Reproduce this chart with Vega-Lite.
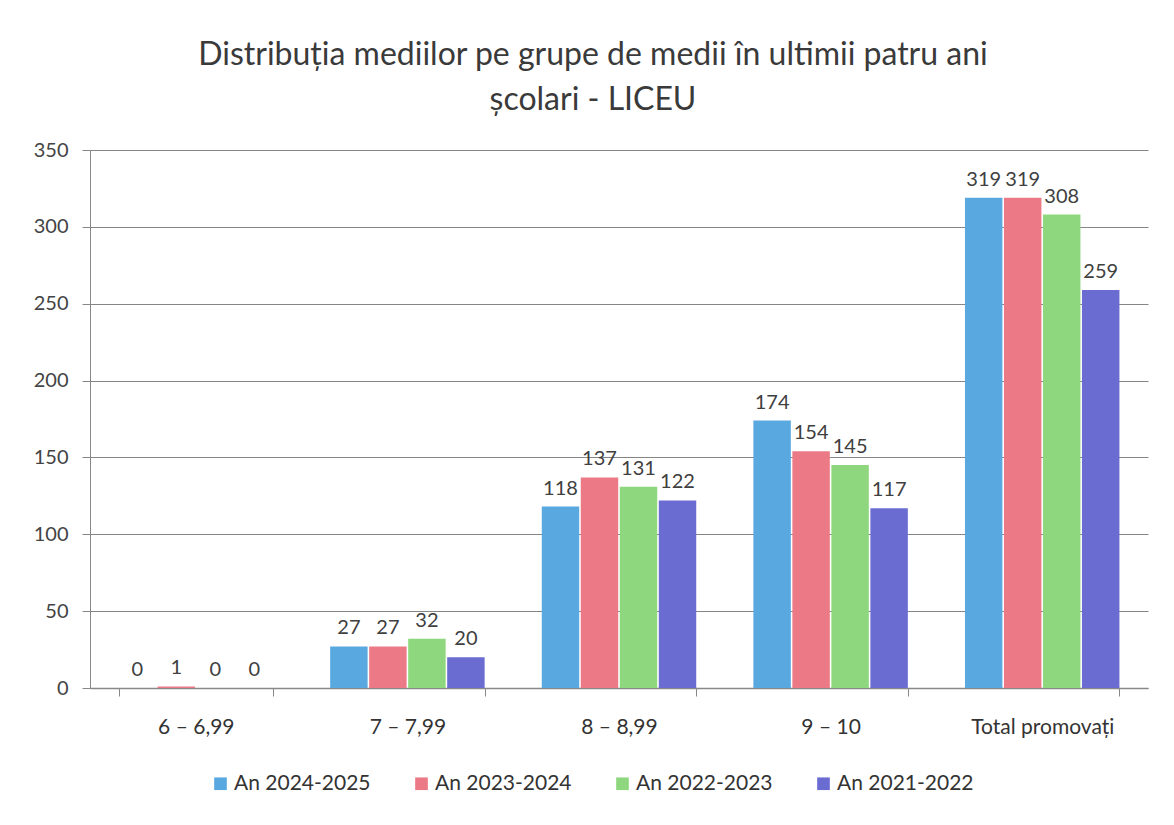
{
  "$schema": "https://vega.github.io/schema/vega-lite/v6.json",
  "width": 1058,
  "height": 538,
  "autosize": {"type": "none"},
  "padding": {"left": 90, "top": 150, "right": 26, "bottom": 137},
  "background": "#ffffff",
  "title": {
    "text": ["Distribuția mediilor pe grupe de medii în ultimii patru ani", "școlari - LICEU"],
    "fontSize": 32,
    "font": "Lato",
    "fontWeight": "normal",
    "color": "#3a3a3a",
    "lineHeight": 45,
    "anchor": "middle",
    "dx": -26,
    "offset": 23
  },
  "data": {
    "values": [
      {"grupa": "6 – 6,99", "an": "An 2024-2025", "valoare": 0},
      {"grupa": "6 – 6,99", "an": "An 2023-2024", "valoare": 1},
      {"grupa": "6 – 6,99", "an": "An 2022-2023", "valoare": 0},
      {"grupa": "6 – 6,99", "an": "An 2021-2022", "valoare": 0},
      {"grupa": "7 – 7,99", "an": "An 2024-2025", "valoare": 27},
      {"grupa": "7 – 7,99", "an": "An 2023-2024", "valoare": 27},
      {"grupa": "7 – 7,99", "an": "An 2022-2023", "valoare": 32},
      {"grupa": "7 – 7,99", "an": "An 2021-2022", "valoare": 20},
      {"grupa": "8 – 8,99", "an": "An 2024-2025", "valoare": 118},
      {"grupa": "8 – 8,99", "an": "An 2023-2024", "valoare": 137},
      {"grupa": "8 – 8,99", "an": "An 2022-2023", "valoare": 131},
      {"grupa": "8 – 8,99", "an": "An 2021-2022", "valoare": 122},
      {"grupa": "9 – 10", "an": "An 2024-2025", "valoare": 174},
      {"grupa": "9 – 10", "an": "An 2023-2024", "valoare": 154},
      {"grupa": "9 – 10", "an": "An 2022-2023", "valoare": 145},
      {"grupa": "9 – 10", "an": "An 2021-2022", "valoare": 117},
      {"grupa": "Total promovați", "an": "An 2024-2025", "valoare": 319},
      {"grupa": "Total promovați", "an": "An 2023-2024", "valoare": 319},
      {"grupa": "Total promovați", "an": "An 2022-2023", "valoare": 308},
      {"grupa": "Total promovați", "an": "An 2021-2022", "valoare": 259}
    ]
  },
  "encoding": {
    "x": {
      "field": "grupa",
      "type": "nominal",
      "sort": null,
      "title": null,
      "scale": {"paddingInner": 0.27, "paddingOuter": 0.135},
      "axis": {
        "labelAngle": 0,
        "labelFontSize": 21,
        "labelFont": "Lato",
        "labelColor": "#333333",
        "labelPadding": 20,
        "tickBand": "extent",
        "tickSize": 8,
        "tickColor": "#888888",
        "domainColor": "#888888",
        "domainWidth": 1.5
      }
    },
    "xOffset": {
      "field": "an",
      "type": "nominal",
      "sort": ["An 2024-2025", "An 2023-2024", "An 2022-2023", "An 2021-2022"],
      "scale": {"paddingInner": 0.04}
    },
    "y": {
      "field": "valoare",
      "type": "quantitative",
      "title": null,
      "scale": {"domain": [0, 350]},
      "axis": {
        "values": [0, 50, 100, 150, 200, 250, 300, 350],
        "labelFontSize": 20,
        "labelFont": "Lato",
        "labelColor": "#444444",
        "labelPadding": 14,
        "tickSize": 8,
        "tickColor": "#888888",
        "domainColor": "#888888",
        "gridColor": "#858585",
        "gridOpacity": 1,
        "gridWidth": 1
      }
    }
  },
  "layer": [
    {
      "mark": {"type": "bar"},
      "encoding": {
        "color": {
          "field": "an",
          "type": "nominal",
          "sort": ["An 2024-2025", "An 2023-2024", "An 2022-2023", "An 2021-2022"],
          "scale": {
            "domain": ["An 2024-2025", "An 2023-2024", "An 2022-2023", "An 2021-2022"],
            "range": ["#5aa8e0", "#ec7a86", "#8ed77e", "#6a6cd2"]
          },
          "legend": {
            "title": null,
            "orient": "none",
            "legendX": 120,
            "legendY": 623,
            "direction": "horizontal",
            "columns": 4,
            "symbolType": "square",
            "symbolSize": 160,
            "symbolStrokeWidth": 0,
            "labelFontSize": 21,
            "labelFont": "Lato",
            "labelColor": "#333333",
            "labelLimit": 300,
            "columnPadding": 40,
            "labelOffset": 3
          }
        }
      }
    },
    {
      "mark": {"type": "text", "dy": -18, "fontSize": 20, "font": "Lato", "color": "#404040"},
      "encoding": {
        "text": {"field": "valoare", "type": "quantitative"}
      }
    }
  ],
  "config": {
    "view": {"stroke": null}
  }
}
